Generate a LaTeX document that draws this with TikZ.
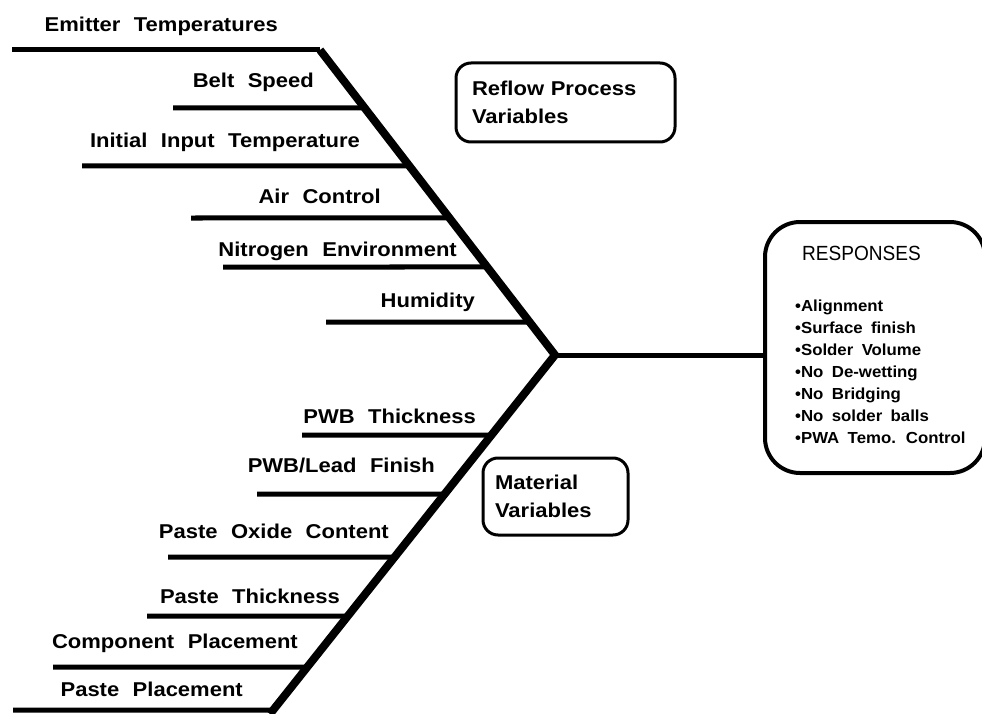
\documentclass[tikz,border=0pt]{standalone}
\usepackage{fontspec}
\usetikzlibrary{calc}
\newfontfamily\lblfont{Liberation Sans}[FakeStretch=1.1,WordSpace=2.2]
\newfontfamily\itemfont{Liberation Sans}[FakeStretch=1.05,WordSpace=1.8]
\newfontfamily\ttlfont{Liberation Sans}[FakeStretch=0.93]

\tikzset{
  spine/.style={line width=8pt, line join=miter},
  branch/.style={line width=5pt},
  lbl/.style={font=\lblfont\bfseries\fontsize{20}{24}\selectfont, inner sep=0pt, anchor=base east},
  varbox/.style={draw, line width=3pt, rounded corners=15pt, align=left, inner xsep=0pt,
    font=\lblfont\bfseries\fontsize{20}{28}\selectfont},
  respbox/.style={draw, line width=4pt, rounded corners=35pt},
  resptitle/.style={font=\ttlfont\fontsize{20.5}{24}\selectfont, inner sep=0pt, anchor=base west},
  respitem/.style={font=\itemfont\bfseries\fontsize{16}{18}\selectfont, inner sep=0pt, anchor=base west}
}

\begin{document}
\begin{tikzpicture}[x=1pt, y=-1pt]
    \useasboundingbox (0,0) rectangle (982,714);
    \coordinate (top) at (320,50);
    \coordinate (apex) at (555,355);
    \coordinate (bot) at (270,714);

    % reflow process variables
    \foreach \ly/\lx/\tx/\ty/\txt [count=\i] in {
        50/12/278/32/{Emitter Temperatures},
        108/173/314/88/{Belt Speed},
        166/82/360/148/{Initial Input Temperature},
        218/191/381/204/{Air Control},
        267/223/457/256/{Nitrogen Environment},
        322/326/475/307/{Humidity}} {
        \pgfmathsetmacro\pos{(\ly-50)/305}
        \coordinate (u\i s) at (\lx,\ly);
        \coordinate (u\i e) at ($(top)!\pos!(apex)$);
        \draw[branch] (u\i s) -- (u\i e);
        \node[lbl] (u\i l) at (\tx,\ty) {\txt};
    }

    % material variables
    \foreach \ly/\lx/\tx/\ty/\txt [count=\i] in {
        435/302/476/423/{PWB Thickness},
        494/257/435/472/{PWB/Lead Finish},
        557/168/389/538/{Paste Oxide Content},
        616/147/340/603/{Paste Thickness},
        667/53/298/648/{Component Placement},
        710/13/243/696/{Paste Placement}} {
        \pgfmathsetmacro\pos{(\ly-355)/359}
        \coordinate (m\i s) at (\lx,\ly);
        \coordinate (m\i e) at ($(apex)!\pos!(bot)$);
        \draw[branch] (m\i s) -- (m\i e);
        \node[lbl] (m\i l) at (\tx,\ty) {\txt};
    }

    \draw[spine] (top) -- (apex) -- (bot);

    \node[varbox, minimum width=219pt, minimum height=79pt, text width=187pt]
        (reflow) at (565.5,102.5) {Reflow Process\\Variables};
    \node[varbox, minimum width=145pt, minimum height=77pt, text width=121pt]
        (material) at (555.5,496.5) {Material\\Variables};

    % responses
    \node[respbox, minimum width=220pt, minimum height=251pt] (resp) at (875,347.5) {};
    \draw[branch] (apex) -- (apex -| resp.west);
    \node[resptitle] (rtitle) at (802,260.5) {RESPONSES};
    \foreach \txt [count=\i] in {Alignment, Surface finish, Solder Volume,
        No De-wetting, No Bridging, No solder balls, PWA Temo. Control} {
        \node[respitem] (r\i) at (795,{289+22*\i}) {•\txt};
    }
\end{tikzpicture}
\end{document}
